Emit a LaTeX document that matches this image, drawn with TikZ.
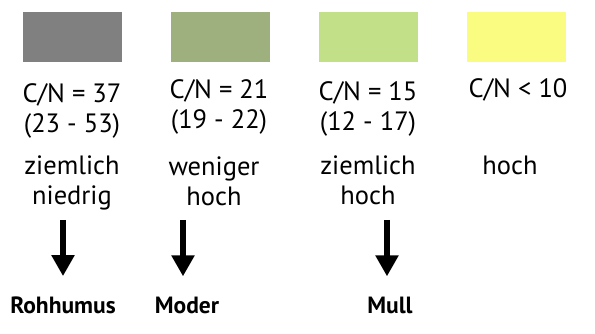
\documentclass[tikz,border=0pt]{standalone}
\usepackage{fontspec}
\setmainfont{PT Sans}
\usetikzlibrary{arrows.meta,positioning}

\definecolor{grau}{HTML}{808080}
\definecolor{gruen}{HTML}{9EB07E}
\definecolor{hellgruen}{HTML}{C1E087}
\definecolor{gelb}{HTML}{F9FC80}

\begin{document}
\begin{tikzpicture}[x=1pt,y=-1pt]
\tikzstyle{feld}=[minimum width=99pt, minimum height=50pt, inner sep=0pt]
\tikzstyle{wert}=[anchor=base, align=center, inner sep=0pt, font=\fontsize{26.5}{30.5}\selectfont]
\tikzstyle{humus}=[anchor=base, inner sep=0pt, font=\fontsize{23.5}{28}\selectfont\bfseries]
\tikzstyle{pfeil}=[line width=5.5pt, -{Triangle[width=22pt,length=21pt]}, shorten >=20pt]
\useasboundingbox (0,0) rectangle (595,334);
% Farbfelder
\node[feld, fill=grau] (f1) at (72,37) {};
\node[feld, fill=gruen] (f2) at (220,37) {};
\node[feld, fill=hellgruen] (f3) at (368,37) {};
\node[feld, fill=gelb] (f4) at (516,37) {};
% C/N-Verhaeltnis (base = letzte Zeile)
\node[wert] (cn1) at (72,133) {C/N = 37\\(23 - 53)};
\node[wert] (cn2) at (219,129) {C/N = 21\\(19 - 22)};
\node[wert] (cn3) at (368,131) {C/N = 15\\(12 - 17)};
\node[wert] (cn4) at (518,98) {C/N < 10};
% Aktivitaet
\node[wert] (akt1) at (72,205) {ziemlich\\niedrig};
\node[wert] (akt2) at (214,206) {weniger\\hoch};
\node[wert] (akt3) at (368,205) {ziemlich\\hoch};
\node[wert] (akt4) at (510,175) {hoch};
% Humusformen
\node[humus] (h1) at (63,313) {Rohhumus};
\node[humus] (h2) at (187,313) {Moder};
\node[humus] (h3) at (390,313) {Mull};
\coordinate (p1) at (63,220);
\coordinate (p2) at (183,220);
\coordinate (p3) at (387,220);
\draw[pfeil] (p1) -- (p1 |- h1.north);
\draw[pfeil] (p2) -- (p2 |- h2.north);
\draw[pfeil] (p3) -- (p3 |- h3.north);
\end{tikzpicture}
\end{document}
